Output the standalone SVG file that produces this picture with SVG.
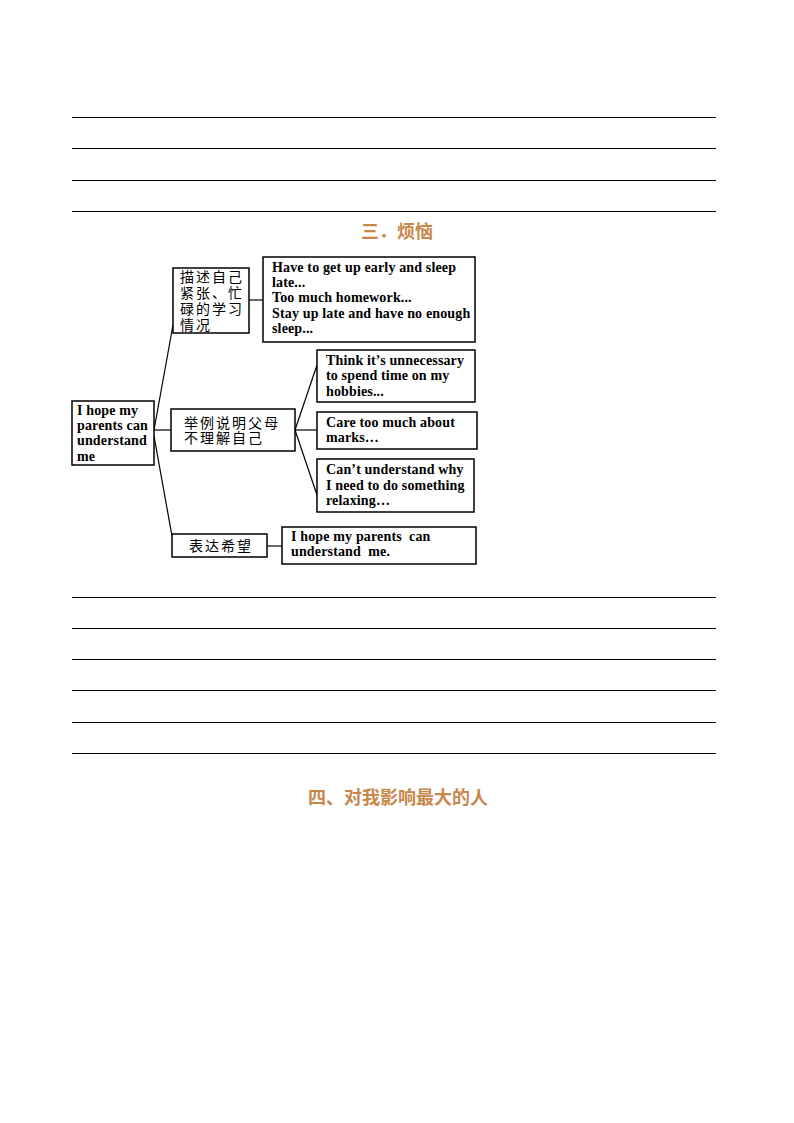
<svg xmlns="http://www.w3.org/2000/svg" width="794" height="1123" viewBox="0 0 794 1123">
<style>
.rule{stroke:#000;stroke-width:1}
.box{fill:#fff;stroke:#000;stroke-width:1.5}
.en{font-family:"Liberation Serif","Times New Roman",serif;font-size:14px;font-weight:bold;letter-spacing:0.15px;fill:#000}
.zh{font-family:"Liberation Serif","Noto Sans CJK SC",serif;font-size:14px;fill:#000;letter-spacing:2px}
.title{font-family:"Noto Sans CJK SC",sans-serif;font-size:18px;font-weight:bold;fill:#c8874b}
.conn line{stroke:#000;stroke-width:1.2}
</style>
<rect width="794" height="1123" fill="#fff"/>
<g id="rules">
<line class="rule" x1="72" y1="117.5" x2="716" y2="117.5"/>
<line class="rule" x1="72" y1="148.5" x2="716" y2="148.5"/>
<line class="rule" x1="72" y1="180.5" x2="716" y2="180.5"/>
<line class="rule" x1="72" y1="211.5" x2="716" y2="211.5"/>
<line class="rule" x1="72" y1="597.5" x2="716" y2="597.5"/>
<line class="rule" x1="72" y1="628.5" x2="716" y2="628.5"/>
<line class="rule" x1="72" y1="659.5" x2="716" y2="659.5"/>
<line class="rule" x1="72" y1="690.5" x2="716" y2="690.5"/>
<line class="rule" x1="72" y1="722.5" x2="716" y2="722.5"/>
<line class="rule" x1="72" y1="753.5" x2="716" y2="753.5"/>
</g>
<text class="title" x="397" y="238" text-anchor="middle">三．烦恼</text>
<text class="title" x="398" y="804" text-anchor="middle">四、对我影响最大的人</text>
<g class="conn" id="connectors">
<line x1="154" y1="430" x2="173" y2="325"/>
<line x1="154" y1="430" x2="171" y2="430"/>
<line x1="154" y1="436" x2="172" y2="536"/>
<line x1="249" y1="300" x2="263" y2="300"/>
<line x1="295" y1="430" x2="317" y2="365"/>
<line x1="295" y1="430" x2="317" y2="430"/>
<line x1="295" y1="430" x2="317" y2="495"/>
<line x1="267" y1="546" x2="282" y2="546"/>
</g>
<g id="root">
<rect class="box" x="72" y="401" width="82" height="64"/>
<text class="en" x="77" y="415">I hope my</text>
<text class="en" x="77" y="430">parents can</text>
<text class="en" x="77" y="445">understand</text>
<text class="en" x="77" y="461">me</text>
</g>
<g id="nodeA">
<rect class="box" x="173" y="268" width="76" height="65"/>
<text class="zh" x="180" y="282">描述自己</text>
<text class="zh" x="180" y="298">紧张、忙</text>
<text class="zh" x="180" y="314">碌的学习</text>
<text class="zh" x="180" y="330">情况</text>
</g>
<g id="nodeA1">
<rect class="box" x="263" y="257" width="212" height="85"/>
<text class="en" x="272" y="272">Have to get up early and sleep</text>
<text class="en" x="272" y="287">late...</text>
<text class="en" x="272" y="302">Too much homework...</text>
<text class="en" x="272" y="318">Stay up late and have no enough</text>
<text class="en" x="272" y="333">sleep...</text>
</g>
<g id="nodeB">
<rect class="box" x="171" y="409" width="124" height="42"/>
<text class="zh" x="184" y="428">举例说明父母</text>
<text class="zh" x="184" y="443">不理解自己</text>
</g>
<g id="nodeB1">
<rect class="box" x="317" y="350" width="158" height="52"/>
<text class="en" x="326" y="365">Think it’s unnecessary</text>
<text class="en" x="326" y="380">to spend time on my</text>
<text class="en" x="326" y="396">hobbies...</text>
</g>
<g id="nodeB2">
<rect class="box" x="317" y="412" width="160" height="37"/>
<text class="en" x="326" y="427">Care too much about</text>
<text class="en" x="326" y="442">marks…</text>
</g>
<g id="nodeB3">
<rect class="box" x="317" y="459" width="157" height="53"/>
<text class="en" x="326" y="474">Can’t understand why</text>
<text class="en" x="326" y="490">I need to do something</text>
<text class="en" x="326" y="505">relaxing…</text>
</g>
<g id="nodeC">
<rect class="box" x="172" y="534" width="95" height="23"/>
<text class="zh" x="221" y="551" text-anchor="middle">表达希望</text>
</g>
<g id="nodeC1">
<rect class="box" x="282" y="527" width="194" height="37"/>
<text class="en" x="291" y="541" xml:space="preserve">I hope my parents  can</text>
<text class="en" x="291" y="556" xml:space="preserve">understand  me.</text>
</g>
</svg>
